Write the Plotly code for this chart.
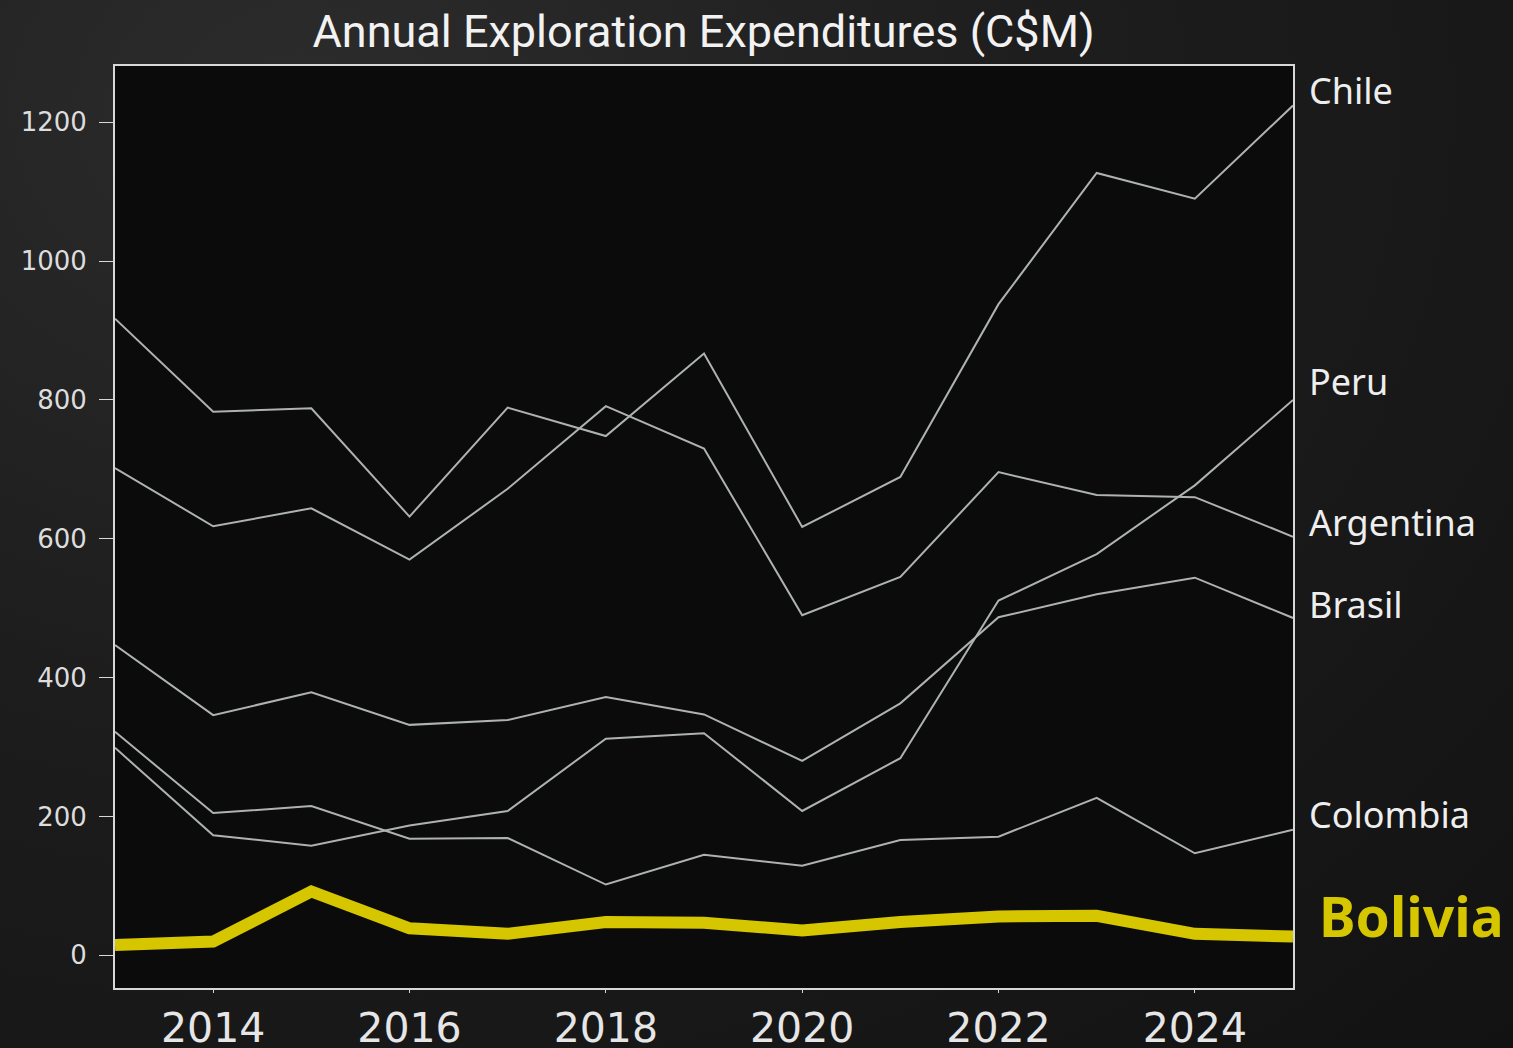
import plotly.graph_objects as go

years = list(range(2013, 2026))
chile = [917, 783, 788, 632, 789, 748, 867, 617, 689, 938, 1127, 1090, 1224]
peru = [299, 173, 158, 187, 208, 312, 320, 208, 284, 511, 578, 677, 800]
argentina = [702, 618, 644, 570, 672, 791, 730, 490, 545, 696, 663, 660, 603]
brasil = [447, 346, 379, 332, 339, 372, 347, 280, 363, 487, 520, 544, 486]
colombia = [322, 205, 215, 168, 169, 102, 145, 129, 166, 171, 227, 147, 181]
bolivia = [15, 20, 92, 39, 31, 48, 47, 36, 48, 56, 57, 31, 27]

gray_series = [("Chile", chile), ("Peru", peru), ("Argentina", argentina),
               ("Brasil", brasil), ("Colombia", colombia)]
label_shift = {"Chile": 15, "Peru": 18, "Argentina": 14, "Brasil": 13, "Colombia": 15}

title_text = "Annual Exploration Expenditures (C$M)"
x_ticks = [2014, 2016, 2018, 2020, 2022, 2024]
y_ticks = [0, 200, 400, 600, 800, 1000, 1200]

GRAY = "#aeb2b3"
YELLOW = "#d6c600"
FRAME = "#d8d8d8"

fig = go.Figure()
for name, vals in gray_series:
    fig.add_trace(go.Scatter(x=years, y=vals, mode="lines", name=name,
                             line=dict(color=GRAY, width=2), showlegend=False))
fig.add_trace(go.Scatter(x=years, y=bolivia, mode="lines", name="Bolivia",
                         line=dict(color=YELLOW, width=12), showlegend=False))

for name, vals in gray_series:
    fig.add_annotation(x=1, xref="paper", y=vals[-1], yref="y", text=name,
                       showarrow=False, xanchor="left", yanchor="middle",
                       xshift=14, yshift=label_shift[name],
                       font=dict(family="Noto Sans, sans-serif", size=36, color="#eeeeee"))
fig.add_annotation(x=1, xref="paper", y=bolivia[-1], yref="y", text="<b>Bolivia</b>",
                   showarrow=False, xanchor="left", yanchor="middle",
                   xshift=24, yshift=21,
                   font=dict(family="Noto Sans, sans-serif", size=55, color=YELLOW))

fig.update_layout(
    width=1513, height=1048,
    margin=dict(l=115, r=220, t=66, b=60, autoexpand=False),
    paper_bgcolor="rgba(0,0,0,0)",
    plot_bgcolor="#0b0b0b",
    title=dict(text=title_text, x=0.465, xanchor="center", y=0.97, yanchor="middle",
               font=dict(family="Liberation Sans Narrow, Roboto, sans-serif", size=45,
                         color="#f2f2f2")),
    xaxis=dict(range=[2013, 2025], tickvals=x_ticks, ticktext=[str(v) for v in x_ticks],
               showgrid=False, zeroline=False, showline=True, linecolor=FRAME, linewidth=2,
               mirror=True, ticks="outside", ticklen=3, tickcolor=FRAME,
               ticklabelstandoff=0, automargin=False,
               tickfont=dict(family="DejaVu Sans, sans-serif", size=41, color="#e6e6e6")),
    yaxis=dict(range=[-47, 1281], tickvals=y_ticks, ticktext=[str(v) for v in y_ticks],
               showgrid=False, zeroline=False, showline=True, linecolor=FRAME, linewidth=2,
               mirror=True, ticks="outside", ticklen=14, tickcolor=FRAME,
               ticklabelstandoff=7, automargin=False,
               tickfont=dict(family="DejaVu Sans, sans-serif", size=26, color="#dddddd")),
)

post = ("document.documentElement.style.margin='0';"
        "document.body.style.margin='0';"
        "document.body.style.overflow='hidden';"
        "var bg='radial-gradient(ellipse at 20% 10%, #2c2c2c 0%, #1d1d1d 45%, #121212 100%)';"
        "document.documentElement.style.background=bg;"
        "document.body.style.background=bg;")

fig.write_html("out.html", post_script=post, config={"displayModeBar": False})
